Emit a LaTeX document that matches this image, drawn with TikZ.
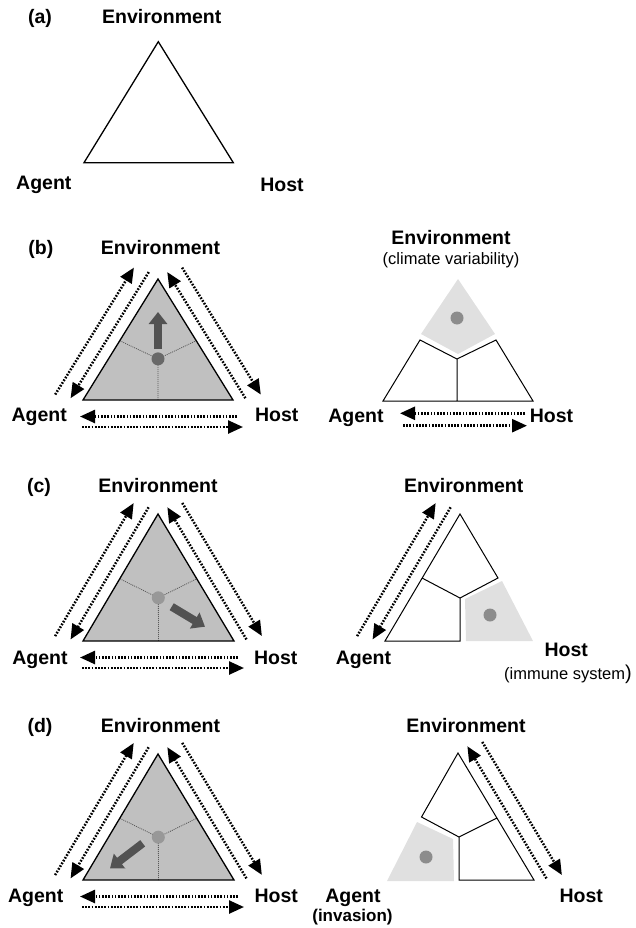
\documentclass[tikz,border=0pt]{standalone}
\usepackage{fontspec}
\setmainfont{Liberation Sans}
\usetikzlibrary{calc,arrows.meta}
\definecolor{trifill}{RGB}{192,192,192}
\definecolor{shadefill}{RGB}{224,224,224}
\definecolor{arrowdark}{RGB}{82,82,82}
\definecolor{dotdark}{RGB}{105,105,105}
\definecolor{dotlight}{RGB}{152,152,152}
\definecolor{dotright}{RGB}{140,140,140}
\definecolor{innerline}{RGB}{90,90,90}
\tikzset{
  lab/.style={font=\fontsize{19.5}{22}\selectfont\bfseries, inner sep=0pt, anchor=base},
  sublab/.style={font=\fontsize{16.5}{19}\selectfont, inner sep=0pt, anchor=base},
  boldsub/.style={font=\fontsize{17}{19}\selectfont\bfseries, inner sep=0pt, anchor=base},
  tri/.style={draw=black, line width=1.3pt, line join=miter},
  seg/.style={draw=black, line width=1pt, line join=miter},
  dotarrow/.style={line width=2.5pt, dash pattern=on 1.7pt off 1.5pt, -{Triangle[length=15pt,width=13pt]}},
  innerdots/.style={draw=innerline, line width=0.8pt, dash pattern=on 1pt off 1pt},
  bigarrow/.style={draw=arrowdark, line width=8pt, -{Triangle[length=12pt,width=18pt]}},
  spot/.style={circle, inner sep=0pt, minimum size=13pt},
}
\newcommand\leftsidearrows[1]{%
  \draw[dotarrow] ($(#1A)!-10pt!(#1E)!26.5pt!90:(#1E)$) -- ($(#1E)!3pt!(#1A)!26.5pt!-90:(#1A)$);
  \draw[dotarrow] ($(#1E)!-1pt!(#1A)!11.5pt!-90:(#1A)$) -- ($(#1A)!-5pt!(#1E)!11.5pt!90:(#1E)$);
}
\newcommand\rightsidearrows[1]{%
  \draw[dotarrow] ($(#1E)!3pt!(#1H)!26.5pt!90:(#1H)$) -- ($(#1H)!-10pt!(#1E)!26.5pt!-90:(#1E)$);
  \draw[dotarrow] ($(#1H)!-5pt!(#1E)!11.5pt!-90:(#1E)$) -- ($(#1E)!-1pt!(#1H)!11.5pt!90:(#1H)$);
}
\newcommand\bottomarrows[1]{%
  \draw[dotarrow] ($(#1H)+(4,16.5)$) -- ($(#1A)+(-3,16.5)$);
  \draw[dotarrow] ($(#1A)+(-1,27)$) -- ($(#1H)+(10,27)$);
}
\newcommand\greytriangle[1]{%
  \coordinate (#1Bm) at ($(#1A)!0.5!(#1H)$);
  \coordinate (#1C) at ($(#1Bm)!0.34!(#1E)$);
  \coordinate (#1Lm) at ($(#1A)!0.49!(#1E)$);
  \coordinate (#1Rm) at ($(#1H)!0.49!(#1E)$);
  \fill[trifill] (#1A) -- (#1E) -- (#1H) -- cycle;
  \draw[innerdots] (#1Lm) -- (#1C) -- (#1Rm) (#1C) -- (#1Bm);
}
\begin{document}
\begin{tikzpicture}[x=1pt, y=-1pt]
\useasboundingbox (0,0) rectangle (635,928);

% ---------------- (a)
\coordinate (aE) at (158.3,41.7);
\coordinate (aA) at (84,162.7);
\coordinate (aH) at (233.3,162.7);
\draw[tri] (aA) -- (aE) -- (aH) -- cycle;
\node[lab] (alab) at (40,23.5) {(a)};
\node[lab] (aEnv) at (161.8,23.5) {Environment};
\node[lab] (aAg) at (43.8,189.5) {Agent};
\node[lab] (aHo) at (282,191) {Host};

% ---------------- (b) left
\coordinate (bE) at (158,279);
\coordinate (bA) at (83,400);
\coordinate (bH) at (233,400);
\greytriangle{b}
\node[spot, fill=dotdark] (bdot) at (bC) {};
\draw[bigarrow] (158,349) -- (158,312);
\draw[tri] (bA) -- (bE) -- (bH) -- cycle;
\leftsidearrows{b}
\rightsidearrows{b}
\bottomarrows{b}
\node[lab] (blab) at (40.8,254) {(b)};
\node[lab] (bEnv) at (160.5,254) {Environment};
\node[lab] (bAg) at (39.2,421.7) {Agent};
\node[lab] (bHo) at (276.7,421.7) {Host};

% ---------------- (b) right
\coordinate (rbA) at (383,401);
\coordinate (rbH) at (533,401);
\coordinate (rbLm) at (420,340);
\coordinate (rbRm) at (496,340);
\coordinate (rbC) at (457,359);
\coordinate (rbBm) at (457,401);
\fill[shadefill] (458,279) -- (495,334) -- (458,354) -- (421,334) -- cycle;
\node[spot, fill=dotright] (rbdot) at (457,318) {};
\draw[seg] (rbLm) -- (rbA) -- (rbH) -- (rbRm) -- (rbC) -- cycle (rbC) -- (rbBm);
\draw[dotarrow] (525,413.3) -- (400,413.3);
\draw[dotarrow] (403,425.7) -- (527,425.7);
\node[lab] (rbEnv) at (451,244.3) {Environment};
\node[sublab] (rbClim) at (451,264.3) {(climate variability)};
\node[lab] (rbAg) at (356,422.7) {Agent};
\node[lab] (rbHo) at (551.5,422.7) {Host};

% ---------------- (c) left
\coordinate (cE) at (158,514);
\coordinate (cA) at (83,641);
\coordinate (cH) at (234,641);
\greytriangle{c}
\node[spot, fill=dotlight] (cdot) at (cC) {};
\draw[bigarrow] (171.7,606.7) -- (205,626.7);
\draw[tri] (cA) -- (cE) -- (cH) -- cycle;
\leftsidearrows{c}
\rightsidearrows{c}
\bottomarrows{c}
\node[lab] (clab) at (39,492.7) {(c)};
\node[lab] (cEnv) at (158,492.7) {Environment};
\node[lab] (cAg) at (40,664.3) {Agent};
\node[lab] (cHo) at (275.7,664.3) {Host};

% ---------------- (c) right
\coordinate (rcE) at (460,514);
\coordinate (rcA) at (385,641);
\coordinate (rcLm) at (422,578);
\coordinate (rcRm) at (498,578);
\coordinate (rcC) at (460,598);
\coordinate (rcBm) at (460,641);
\fill[shadefill] (465,599) -- (502,581) -- (533,641) -- (466,641) -- cycle;
\node[spot, fill=dotright] (rcdot) at (490,615) {};
\draw[seg] (rcE) -- (rcRm) -- (rcC) -- (rcBm) -- (rcA) -- cycle (rcLm) -- (rcC);
\leftsidearrows{rc}
\node[lab] (rcEnv) at (463.8,492.7) {Environment};
\node[lab] (rcAg) at (363.5,664.3) {Agent};
\node[lab] (rcHo) at (566.3,656) {Host};
\node[sublab] (rcImm) at (568,679.3) {(immune system{\fontsize{20}{22}\selectfont)}};

% ---------------- (d) left
\coordinate (dE) at (158,754);
\coordinate (dA) at (83,880);
\coordinate (dH) at (234,880);
\greytriangle{d}
\node[spot, fill=dotlight] (ddot) at (dC) {};
\draw[bigarrow] (142.7,843.3) -- (110,868.3);
\draw[tri] (dA) -- (dE) -- (dH) -- cycle;
\leftsidearrows{d}
\rightsidearrows{d}
\bottomarrows{d}
\node[lab] (dlab) at (40,732.7) {(d)};
\node[lab] (dEnv) at (160.5,732.7) {Environment};
\node[lab] (dAg) at (35.7,902.7) {Agent};
\node[lab] (dHo) at (276.2,902.7) {Host};

% ---------------- (d) right
\coordinate (rdE) at (458,753);
\coordinate (rdH) at (534,880);
\coordinate (rdLm) at (421.5,817);
\coordinate (rdRm) at (497,818);
\coordinate (rdC) at (459,837);
\coordinate (rdBm) at (459,880);
\fill[shadefill] (417,822) -- (453,839) -- (454,881) -- (387,881) -- cycle;
\node[spot, fill=dotright] (rddot) at (426,857) {};
\draw[seg] (rdLm) -- (rdE) -- (rdH) -- (rdBm) -- (rdC) -- cycle (rdC) -- (rdRm);
\rightsidearrows{rd}
\node[lab] (rdEnv) at (466,732.7) {Environment};
\node[lab] (rdAg) at (353,902.7) {Agent};
\node[boldsub] (rdInv) at (352.5,921.7) {(invasion)};
\node[lab] (rdHo) at (581.3,902.7) {Host};
\end{tikzpicture}
\end{document}
